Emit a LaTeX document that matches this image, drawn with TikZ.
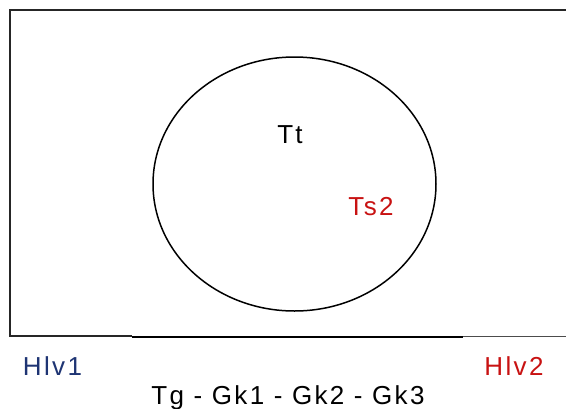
\documentclass[tikz,border=0pt]{standalone}
\usepackage{fontspec}
\setmainfont[LetterSpace=9]{Liberation Sans}
\usetikzlibrary{positioning}
\definecolor{hlvblue}{RGB}{30,52,115}
\definecolor{tsred}{RGB}{200,18,18}

\begin{document}
\begin{tikzpicture}[x=1pt, y=-1pt, >=latex]
                \tikzset{lbl/.style={anchor=base, inner sep=0pt, font=\fontsize{26}{31}\selectfont}}
                \useasboundingbox (0,0) rectangle (566,408);

                % Moldura (topo e esquerda)
                \draw[line width=2pt, black!85] (566,10) -- (10,10) -- (10,336) -- (132,336);
                \draw[line width=1pt, black!70] (463,336) -- (566,336);
                % Trecho inferior mais grosso
                \draw[line width=2pt] (132,337) -- (463,337);

                % Elipse central
                \draw[line width=1.5pt] (294.5,184) ellipse [x radius=141.5, y radius=127];

                % Textos
                \node[lbl] (tt) at (290,143) {Tt};
                \node[lbl, text=tsred] (ts2) at (371,215) {Ts2};
                \node[lbl, text=hlvblue] (hlv1) at (52.5,375) {Hlv1};
                \node[lbl, text=tsred] (hlv2) at (514,375) {Hlv2};
                \node[lbl] (tg) at (288,404) {Tg - Gk1 - Gk2 - Gk3};

            \end{tikzpicture}
\end{document}
